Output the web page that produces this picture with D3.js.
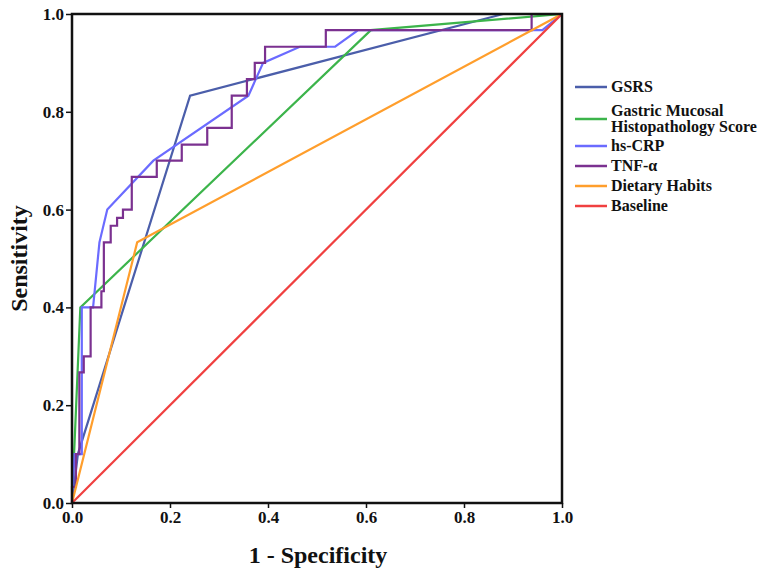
<!DOCTYPE html>
<html>
<head>
<meta charset="utf-8">
<script src="https://cdn.jsdelivr.net/npm/d3@7"></script>
<style>
  html, body { margin: 0; padding: 0; background: #fff; }
  svg text { font-family: "Liberation Serif", "Times New Roman", serif; font-weight: bold; fill: #111; }
</style>
</head>
<body>
<div id="chart"></div>
<script>
// ROC curves, [1 - specificity, sensitivity]
const gsrs = [[0, 0], [0.012, 0.1], [0.241, 0.833], [0.88, 1], [1, 1]];
const gastric = [[0, 0], [0.017, 0.4], [0.61, 0.967], [1, 1]];
const hsCrp = [[0, 0], [0.005, 0.1], [0.02, 0.1], [0.02, 0.4], [0.043, 0.4], [0.056, 0.533],
  [0.072, 0.6], [0.166, 0.7], [0.36, 0.833], [0.39, 0.9], [0.465, 0.933], [0.537, 0.933],
  [0.584, 0.967], [0.96, 0.967], [1, 1]];
const tnf = [[0, 0], [0, 0.033], [0.008, 0.033], [0.008, 0.1], [0.015, 0.1], [0.015, 0.267],
  [0.024, 0.267], [0.024, 0.3], [0.038, 0.3], [0.038, 0.4], [0.06, 0.4], [0.06, 0.433],
  [0.065, 0.433], [0.065, 0.533], [0.079, 0.533], [0.079, 0.567], [0.092, 0.567],
  [0.092, 0.583], [0.104, 0.583], [0.104, 0.6], [0.122, 0.6], [0.122, 0.667], [0.173, 0.667],
  [0.173, 0.7], [0.224, 0.7], [0.224, 0.733], [0.276, 0.733], [0.276, 0.767], [0.326, 0.767],
  [0.326, 0.833], [0.357, 0.833], [0.357, 0.867], [0.373, 0.867], [0.373, 0.9], [0.394, 0.9],
  [0.394, 0.933], [0.518, 0.933], [0.518, 0.967], [0.938, 0.967], [0.938, 1], [1, 1]];
const dietary = [[0, 0], [0.133, 0.533], [1, 1]];
const baseline = [[0, 0], [1, 1]];

const seriesNames = ["GSRS", "Gastric Mucosal\nHistopathology Score", "hs-CRP", "TNF-α", "Dietary Habits", "Baseline"];
const seriesColors = ["#4b5eaa", "#3cb44b", "#6b6bff", "#7b3190", "#ff9e2c", "#f04040"];
const ticks = [0, 0.2, 0.4, 0.6, 0.8, 1.0];

const series = [gsrs, gastric, hsCrp, tnf, dietary, baseline];

const W = 758, H = 572,
  M = { t: 14, l: 72 },
  w = 490, h = 489;

const svg = d3.select("#chart").append("svg").attr("width", W).attr("height", H);
const g = svg.append("g").attr("transform", `translate(${M.l},${M.t})`);

const x = d3.scaleLinear().domain([0, 1]).range([0, w]);
const y = d3.scaleLinear().domain([0, 1]).range([h, 0]);

// axes
const xAx = g.append("g").attr("transform", `translate(0,${h})`)
  .call(d3.axisBottom(x).tickValues(ticks).tickFormat(d3.format(".1f")).tickSizeOuter(0).tickSize(5).tickPadding(3));
const yAx = g.append("g")
  .call(d3.axisLeft(y).tickValues(ticks).tickFormat(d3.format(".1f")).tickSizeOuter(0).tickSize(6).tickPadding(2));
[xAx, yAx].forEach(a => {
  a.selectAll("line").attr("stroke", "#111").attr("stroke-width", 1.5);
  a.select(".domain").remove();
  a.selectAll("text").style("font-size", "17px").style("font-family", "Liberation Serif, serif").style("font-weight", "bold");
});

// curves
const line = d3.line().x(d => x(d[0])).y(d => y(d[1]));
g.selectAll(".roc").data(series).enter().append("path")
  .attr("class", "roc")
  .attr("d", line)
  .attr("fill", "none")
  .attr("stroke", (d, i) => seriesColors[i])
  .attr("stroke-width", 2.2)
  .attr("stroke-linejoin", "miter");

// frame
g.append("rect").attr("width", w).attr("height", h)
  .attr("fill", "none").attr("stroke", "#111").attr("stroke-width", 2.5);

// axis titles
svg.append("text").attr("x", 318).attr("y", 563)
  .attr("text-anchor", "middle").style("font-size", "24px").text("1 - Specificity");
svg.append("text").attr("transform", `translate(27,${M.t + h / 2}) rotate(-90)`)
  .attr("text-anchor", "middle").style("font-size", "24px").text("Sensitivity");

// legend
const legY = [87, 119, 146, 166, 186, 206];
const leg = svg.append("g");
seriesNames.forEach((name, i) => {
  leg.append("line").attr("x1", 575).attr("x2", 607)
    .attr("y1", legY[i]).attr("y2", legY[i])
    .attr("stroke", seriesColors[i]).attr("stroke-width", 2.5);
  const parts = name.split("\n");
  const t = leg.append("text").attr("x", 611).style("font-size", "16px");
  parts.forEach((p, k) => {
    t.append("tspan").attr("x", 611)
      .attr("y", legY[i] + 5 + (parts.length > 1 ? (k - 0.5) * 16 : 0))
      .text(p);
  });
});
</script>
</body>
</html>
